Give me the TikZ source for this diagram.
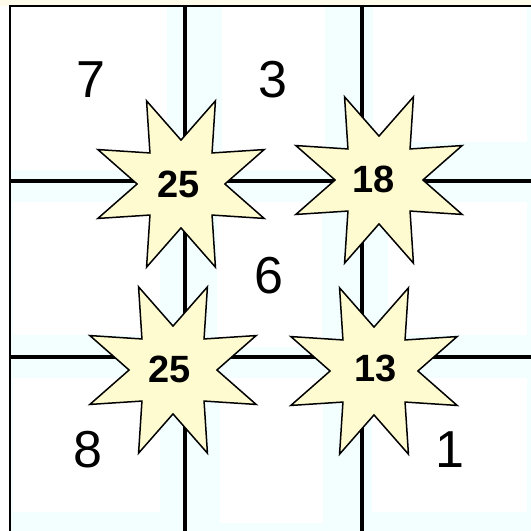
\documentclass[tikz,border=0pt]{standalone}
\usepackage{fontspec}
\setmainfont{Liberation Sans}
\usetikzlibrary{shapes.geometric}
\definecolor{cellcyan}{RGB}{243,255,255}
\definecolor{topcream}{RGB}{255,252,236}
\definecolor{starfill}{RGB}{255,251,208}
\tikzset{
  gridline/.style={line width=4pt},
  borderline/.style={line width=2.4pt},
  cellnum/.style={font=\fontsize{52}{52}\selectfont, inner sep=0pt},
  starbox/.style={star, star points=8, star point ratio=2.05,
    minimum size=180pt, inner sep=0pt, shape border rotate=22.5,
    draw=black, line width=1.5pt, fill=starfill},
  startext/.style={inner sep=0pt, font=\fontsize{38}{38}\selectfont\bfseries},
  whitebox/.style={fill=white, draw=none}
}
\begin{document}
\begin{tikzpicture}[x=1pt,y=-1pt]
\useasboundingbox (0,0) rectangle (531,531);
\fill[white] (0,0) rectangle (531,531);
\fill[topcream] (0,0) rectangle (531,6);
\fill[cellcyan] (10,6) rectangle (531,531);
% white cell areas
\fill[whitebox] (11,7) rectangle (167,170);
\fill[whitebox] (222,7) rectangle (325,170);
\fill[whitebox] (373,7) rectangle (527,142);
\fill[whitebox] (13,202) rectangle (160,335);
\fill[whitebox] (217,202) rectangle (322,347);
\fill[whitebox] (388,202) rectangle (527,335);
\fill[whitebox] (13,378) rectangle (160,512);
\fill[whitebox] (220,378) rectangle (323,523);
\fill[whitebox] (372,378) rectangle (527,512);
% grid
\coordinate (tl) at (10,6);
\coordinate (tr) at (531,6);
\coordinate (bl) at (10,531);
\draw[borderline] (bl) -- (tl) -- (tr);
\coordinate (v1t) at (185,6);   \coordinate (v1b) at (185,531);
\coordinate (v2t) at (362,6);   \coordinate (v2b) at (362,531);
\coordinate (h1l) at (10,181);  \coordinate (h1r) at (531,181);
\coordinate (h2l) at (10,357);  \coordinate (h2r) at (531,357);
\draw[gridline] (v1t) -- (v1b);
\draw[gridline] (v2t) -- (v2b);
\draw[gridline] (h1l) -- (h1r);
\draw[gridline] (h2l) -- (h2r);
% cell numbers
\node[cellnum] (n7) at (91,80) {7};
\node[cellnum] (n3) at (273,80) {3};
\node[cellnum] (n6) at (269,276) {6};
\node[cellnum] (n8) at (88,450) {8};
\node[cellnum] (n1) at (450,450) {1};
% stars
\node[starbox] (s1) at (181,184) {};
\node[starbox] (s2) at (379,180) {};
\node[starbox] (s3) at (173,370) {};
\node[starbox] (s4) at (374,371) {};
\node[startext] (t1) at (179,184) {25};
\node[startext] (t2) at (374,179) {18};
\node[startext] (t3) at (170,369) {25};
\node[startext] (t4) at (376,368) {13};
\end{tikzpicture}
\end{document}
